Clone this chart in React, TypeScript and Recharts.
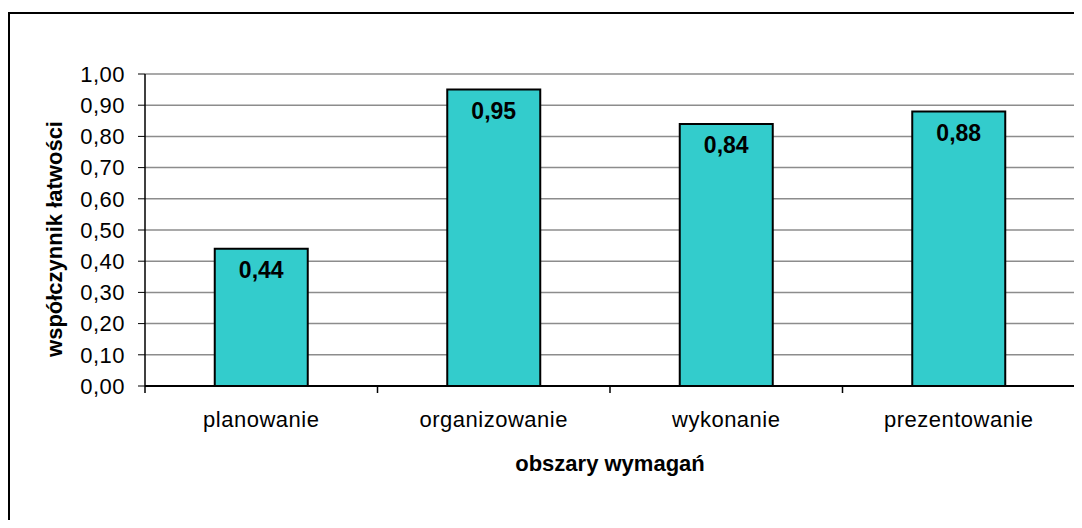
import React from 'react';
import { BarChart, Bar, XAxis, YAxis, CartesianGrid, LabelList, Label } from 'recharts';

const categories = ['planowanie', 'organizowanie', 'wykonanie', 'prezentowanie'];
const values = [0.44, 0.95, 0.84, 0.88];
const yTicks = [0, 0.1, 0.2, 0.3, 0.4, 0.5, 0.6, 0.7, 0.8, 0.9, 1.0];

const data = categories.map((name, i) => ({ name, value: values[i] }));

const FONT = '"Liberation Sans", Arial, sans-serif';
const fmt = (v: number) => v.toFixed(2).replace('.', ',');

const CHART_W = 1072;
const CHART_H = 510;
const MARGIN = { top: 60, right: 7, left: 0, bottom: 48 };
const X_AXIS_H = 90;
const Y_AXIS_W = 135;
const PLOT_H = CHART_H - MARGIN.top - MARGIN.bottom - X_AXIS_H;

// category label in the middle, small tick marks on the band edges (Excel style)
// the last category also draws the grey right border of the plot area
const CategoryTick = (props: any) => {
  const { x, y, payload } = props;
  const half = payload.offset ?? (CHART_W - MARGIN.right - Y_AXIS_W) / categories.length / 2;
  const last = payload.value === categories[categories.length - 1];
  const axisY = y - 7;
  return (
    <g>
      <line x1={x - half} x2={x - half} y1={axisY} y2={y} stroke="#000" strokeWidth={1.5} />
      {last && <line x1={x + half} x2={x + half} y1={axisY} y2={y} stroke="#000" strokeWidth={1.5} />}
      {last && <line x1={x + half} x2={x + half} y1={axisY} y2={axisY - PLOT_H} stroke="#8c8c8c" strokeWidth={2} />}
      <text x={x} y={y} dy={34} textAnchor="middle" fill="#000" fontSize={22} letterSpacing={0.5} fontFamily={FONT}>
        {payload.value}
      </text>
    </g>
  );
};

const YTitle = (props: any) => {
  const vb = props.viewBox;
  const cx = vb.x + 44;
  const cy = vb.y + vb.height / 2 + 9;
  return (
    <text x={cx} y={cy} transform={`rotate(-90, ${cx}, ${cy})`} textAnchor="middle" dominantBaseline="central"
      fontSize={22} fontWeight="bold" fontFamily={FONT} fill="#000">
      współczynnik łatwości
    </text>
  );
};

export default function App() {
  return (
    <div style={{ position: 'relative', top: 4, width: 1074, height: 512, borderTop: '2px solid #000', borderLeft: '2px solid #000', boxSizing: 'border-box', background: '#fff' }}>
      <BarChart width={CHART_W} height={CHART_H} data={data} margin={MARGIN} barCategoryGap="30%">
        <CartesianGrid horizontal vertical={false} stroke="#8c8c8c" strokeWidth={1.5} />
        <XAxis dataKey="name" height={X_AXIS_H} tickLine={false} tickSize={7} tickMargin={0} interval={0}
          axisLine={{ stroke: '#000', strokeWidth: 2 }} tick={<CategoryTick />}>
          <Label value="obszary wymagań" position="insideBottom" offset={5}
            style={{ fontSize: 22, fontWeight: 'bold', fontFamily: FONT, fill: '#000' }} />
        </XAxis>
        <YAxis width={Y_AXIS_W} domain={[0, 1]} ticks={yTicks} interval={0} tickFormatter={fmt} tickSize={7} tickMargin={13}
          axisLine={{ stroke: '#000', strokeWidth: 1.5 }} tickLine={{ stroke: '#000' }}
          tick={{ fontSize: 22, fontFamily: FONT, fill: '#000', letterSpacing: 0.5 }} label={<YTitle />} />
        <Bar dataKey="value" fill="#33CCCC" stroke="#000" strokeWidth={2} isAnimationActive={false}>
          <LabelList dataKey="value" position="insideTop" offset={13} formatter={(v: any) => fmt(Number(v))}
            style={{ fontSize: 23, fontWeight: 'bold', fontFamily: FONT, fill: '#000' }} />
        </Bar>
      </BarChart>
    </div>
  );
}
